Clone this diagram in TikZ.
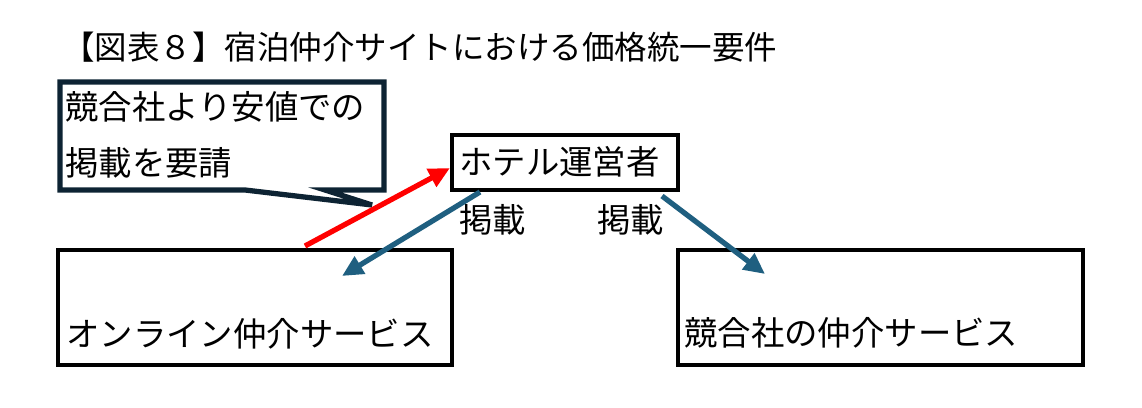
\documentclass[tikz,border=0pt]{standalone}
\usepackage{fontspec}
\setmainfont{Noto Sans CJK JP}
\usetikzlibrary{arrows.meta}
\definecolor{navy}{HTML}{0D2333}
\definecolor{steel}{HTML}{1F5F80}
\tikzset{
  box/.style={draw, line width=2.5pt, anchor=north west, inner sep=0pt},
  jtext/.style={font=\fontsize{19pt}{23pt}\selectfont, inner sep=0pt, anchor=west},
  arr/.style={-{Triangle[length=12pt,width=11pt]}, line width=3pt}
}
\begin{document}
\begin{tikzpicture}[x=0.02cm, y=-0.02cm]
  \useasboundingbox (0,0) rectangle (1142,408);
  % Title
  \node[jtext, font=\fontsize{18.5pt}{22pt}\selectfont] (title) at (62,47) {【図表８】宿泊仲介サイトにおける価格統一要件};

  % Callout
  \draw[navy, line width=3pt, line join=miter] (60,82) -- (384,82) -- (384,190) -- (325,190)
    -- (372,205) -- (245,190) -- (60,190) -- cycle;
  \node[jtext] (call1) at (65,107) {競合社より安値での};
  \node[jtext] (call2) at (65,163) {掲載を要請};

  % Boxes
  \draw[line width=2.5pt] (452,135) rectangle (678,190);
  \node[jtext] (hotel) at (459,162) {ホテル運営者};
  \coordinate (hotelL) at (450,168);
  \coordinate (hotelB1) at (480,192);
  \coordinate (hotelB2) at (662,196);

  \draw[line width=2.5pt] (58,250) rectangle (452,365);
  \node[jtext] (online) at (66,334) {オンライン仲介サービス};
  \coordinate (onlineT) at (305,246);
  \coordinate (onlineIn) at (342,276);

  \draw[line width=2.5pt] (678,250) rectangle (1083,365);
  \node[jtext] (rival) at (684,333) {競合社の仲介サービス};
  \coordinate (rivalIn) at (765,274);

  % Arrows
  \draw[arr, red] (onlineT) -- (hotelL);
  \draw[arr, steel] (hotelB1) -- (onlineIn);
  \draw[arr, steel] (hotelB2) -- (rivalIn);
  \node[jtext] (post1) at (459,220) {掲載};
  \node[jtext] (post2) at (597,220) {掲載};
\end{tikzpicture}
\end{document}
